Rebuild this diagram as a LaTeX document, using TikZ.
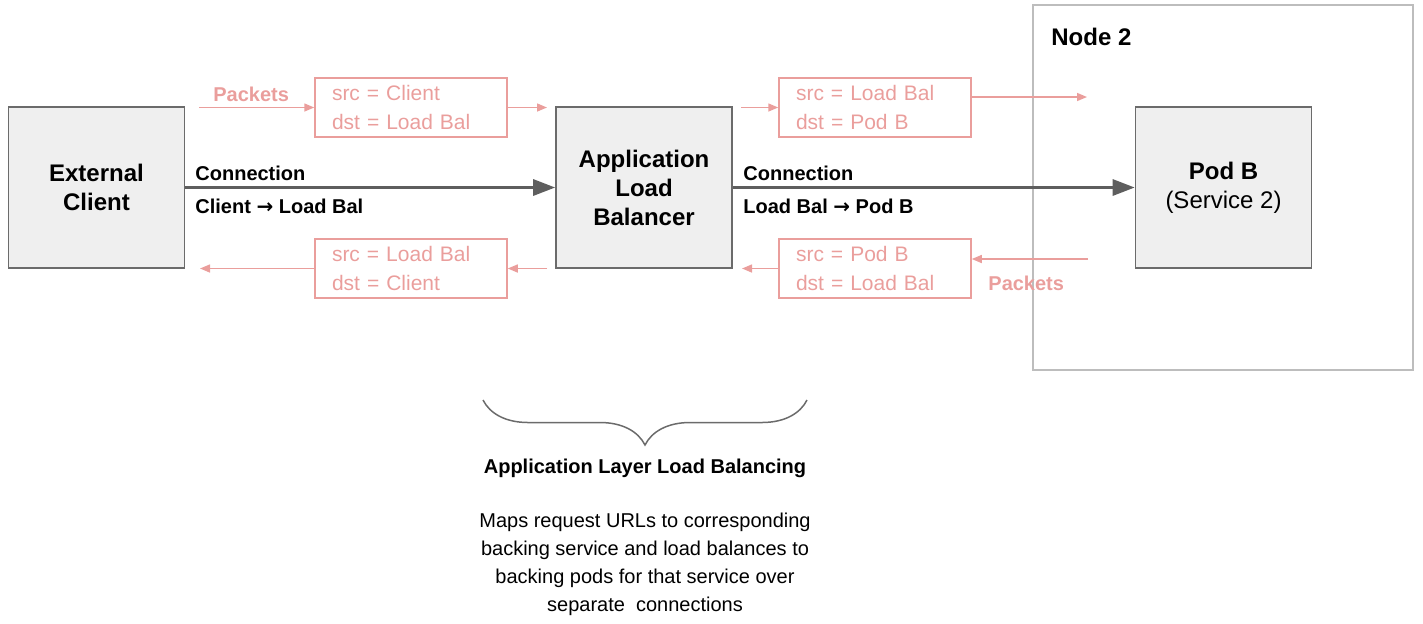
\documentclass[tikz,border=0pt]{standalone}
\usepackage{fontspec}
\setmainfont{Liberation Sans}
\newfontfamily\arrowfont{DejaVu Sans}
\usetikzlibrary{arrows.meta}
\usetikzlibrary{decorations.pathreplacing}
\definecolor{boxfill}{HTML}{EFEFEF}
\definecolor{boxline}{HTML}{6B6B6B}
\definecolor{packetred}{HTML}{EA9E9C}
\definecolor{connline}{HTML}{5E5E5E}
\definecolor{hostline}{HTML}{BDBDBD}
\newcommand{\toarrow}{{\arrowfont\bfseries →}}
\tikzset{
	endpoint/.style={draw=boxline, fill=boxfill, line width=0.8pt, minimum width=88pt, minimum height=80.5pt, align=center, font=\fontsize{12}{14.5}\selectfont},
	header/.style={draw=packetred, line width=0.75pt, text=packetred, align=left, text width=79pt, inner xsep=8.5pt, inner ysep=0pt, minimum height=29.5pt, font=\fontsize{10.5}{14.5}\selectfont},
	flow/.style={draw=packetred, line width=0.75pt, -{Triangle[length=5pt,width=4pt]}},
	conn/.style={draw=connline, line width=1.5pt, -{Triangle[length=11pt,width=8pt]}},
	connlabel/.style={anchor=base west, inner sep=0pt, font=\bfseries\fontsize{10}{12}\selectfont},
	packetlabel/.style={anchor=base west, inner sep=0pt, text=packetred, font=\bfseries\fontsize{10}{12}\selectfont}
}

\begin{document}
\begin{tikzpicture}[x=0.5pt, y=-0.5pt]
	\useasboundingbox (0,0) rectangle (1423,623);
	
	% host of the backend
	\node[draw=hostline, line width=0.75pt, minimum width=190pt, minimum height=182.5pt] (node2) at (1223,187.5) {};
	\node[anchor=base west, inner sep=0pt, font=\bfseries\fontsize{12}{14}\selectfont] (node2label) at (1051,45) {Node 2};
	
	% endpoints
	\node[endpoint, font=\bfseries\fontsize{12}{14.5}\selectfont] (client) at (96.5,187.5) {External\\Client};
	\node[endpoint, font=\bfseries\fontsize{12}{14.5}\selectfont] (alb) at (644,187.5) {Application\\Load\\Balancer};
	\node[endpoint] (podb) at (1223.5,187.5) {\textbf{Pod B}\\(Service 2)};
	
	% connections
	\draw[conn] (client) -- (alb);
	\draw[conn] (alb) -- (podb);
	\node[connlabel] (conn1top) at (195,180) {Connection};
	\node[connlabel] (conn1bot) at (195,213) {Client \toarrow\ Load Bal};
	\node[connlabel] (conn2top) at (743,180) {Connection};
	\node[connlabel] (conn2bot) at (743,213) {Load Bal \toarrow\ Pod B};
	
	% packet headers
	\node[header] (hdr1) at (411,107.5) {src = Client\\dst = Load Bal};
	\node[header] (hdr2) at (875,107.5) {src = Load Bal\\dst = Pod B};
	\node[header] (hdr3) at (411,268.5) {src = Load Bal\\dst = Client};
	\node[header] (hdr4) at (875,268.5) {src = Pod B\\dst = Load Bal};
	
	% request packets
	\coordinate (pin1) at (199,107.5);
	\coordinate (pout1) at (547,107.5);
	\coordinate (pin2) at (741,107.5);
	\coordinate (pout2) at (1087,97);
	\draw[flow] (pin1) -- (hdr1.west);
	\draw[flow] (hdr1.east) -- (pout1);
	\draw[flow] (pin2) -- (hdr2.west);
	\draw[flow] (hdr2.east |- pout2) -- (pout2);
	\node[packetlabel] (pkt1) at (213,101) {Packets};
	
	% reply packets
	\coordinate (pin3) at (1088,259);
	\coordinate (pout3) at (742,268.5);
	\coordinate (pin4) at (547,268.5);
	\coordinate (pout4) at (200,268.5);
	\draw[flow] (pin3) -- (hdr4.east |- pin3);
	\draw[flow] (hdr4.west) -- (pout3);
	\draw[flow] (pin4) -- (hdr3.east);
	\draw[flow] (hdr3.west) -- (pout4);
	\node[packetlabel] (pkt2) at (988,290) {Packets};
	
	% layer brace
	\coordinate (braceleft) at (483,400);
	\coordinate (braceright) at (807,400);
	\draw[draw=boxline, line width=0.75pt, decorate, decoration={brace, mirror, amplitude=22.5pt}] (braceleft) -- (braceright);
	\node[anchor=base, inner sep=0pt, font=\bfseries\fontsize{10}{12}\selectfont] (layer) at (645,473) {Application Layer Load Balancing};
	\node[anchor=north, inner sep=0pt, align=center, font=\fontsize{10}{14}\selectfont] (layerdesc) at (645,513) {Maps request URLs to corresponding\\backing service and load balances to\\backing pods for that service over\\separate\ \ connections};

\end{tikzpicture}
\end{document}
